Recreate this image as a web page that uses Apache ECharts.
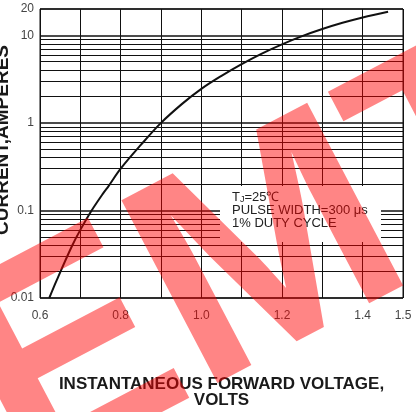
<!DOCTYPE html>
<html>
<head>
<meta charset="utf-8">
<script src="https://cdn.jsdelivr.net/npm/echarts@6/dist/echarts.min.js"></script>
<style>
html,body{margin:0;padding:0;background:#fff;}
#chart{width:416px;height:412px;}
</style>
</head>
<body>
<div id="chart"></div>
<script>
// Forward voltage (V) and instantaneous forward current (A)
const voltage = [0.623, 0.641, 0.679, 0.70, 0.728, 0.757, 0.77, 0.80, 0.85, 0.90, 0.953, 1.0, 1.05, 1.1, 1.15, 1.2, 1.25, 1.3, 1.35, 1.4, 1.463];
const current = [0.01, 0.0158, 0.039, 0.06, 0.1, 0.158, 0.19, 0.30, 0.56, 1.0, 1.66, 2.45, 3.45, 4.7, 6.2, 7.9, 9.8, 11.8, 13.9, 16.0, 18.6];
const xTickLabels = ['0.6', '0.8', '1.0', '1.2', '1.4', '1.5'];
const minorGrid = [0.02, 0.03, 0.04, 0.05, 0.06, 0.07, 0.08, 0.09, 0.2, 0.3, 0.4, 0.5, 0.6, 0.7, 0.8, 0.9, 2, 3, 4, 5, 6, 7, 8, 9];
const noteLines = ['{t|T}{s|J}{t|=25℃}', 'PULSE WIDTH=300 μs', '1% DUTY CYCLE'];

const chart = echarts.init(document.getElementById('chart'), null, {renderer: 'canvas'});
const font = '"Liberation Sans", Arial, sans-serif';
const lineColor = '#111';

chart.setOption({
  animation: false,
  backgroundColor: '#fff',
  grid: {left: 40, right: 13, top: 9, bottom: 114, show: true, borderColor: lineColor, borderWidth: 1,
    backgroundColor: 'transparent', containLabel: false, outerBoundsMode: 'none'},
  xAxis: {
    type: 'value', min: 0.6, max: 1.5, interval: 0.1,
    name: 'INSTANTANEOUS FORWARD VOLTAGE,\nVOLTS', nameLocation: 'middle', nameGap: 78, nameMoveOverlap: false,
    nameTextStyle: {fontFamily: font, fontWeight: 'bold', fontSize: 17, color: '#1a1a1a', lineHeight: 16},
    axisLine: {show: false}, axisTick: {show: false},
    axisLabel: {
      fontFamily: font, fontSize: 12, color: '#444', margin: 12, showMaxLabel: true, showMinLabel: true,
      formatter: v => { const s = v.toFixed(1); return xTickLabels.includes(s) ? s : ''; }
    },
    splitLine: {show: true, lineStyle: {color: lineColor, width: 1}}
  },
  yAxis: {
    type: 'log', logBase: 10, min: 0.01, max: 20,
    axisLine: {show: false}, axisTick: {show: false},
    axisLabel: {fontFamily: font, fontSize: 12, color: '#444', margin: 6, showMaxLabel: true},
    splitLine: {show: true, lineStyle: {color: lineColor, width: 1.6}}
  },
  series: [{
    type: 'line',
    data: voltage.map((v, i) => [v, current[i]]),
    smooth: 0.35, showSymbol: false, symbol: 'none',
    lineStyle: {color: '#111', width: 2},
    markLine: {
      silent: true, symbol: 'none', label: {show: false},
      lineStyle: {color: lineColor, width: 1, type: 'solid'},
      data: minorGrid.map(v => ({yAxis: v}))
    },
    z: 3
  }],
  graphic: [
    {type: 'rect', x: 220, y: 186, shape: {width: 161, height: 56}, style: {fill: '#fff'}, z: 50},
    {type: 'text', x: 232, y: 191, z: 51,
      style: {text: noteLines.join('\n'), font: '13px ' + font, fill: '#222', lineHeight: 13,
        rich: {t: {fontSize: 13, fontFamily: font, fill: '#222'}, s: {fontSize: 9, fontFamily: font, fill: '#222', padding: [4, 0, 0, 0]}}}},
    {type: 'text', x: 3, y: 140, rotation: Math.PI / 2, z: 60,
      style: {text: 'CURRENT,AMPERES', font: 'bold 19px ' + font, fill: '#1a1a1a', textAlign: 'center', textVerticalAlign: 'middle'}},
    {type: 'text', x: -16, y: 412, rotation: 27.7 * Math.PI / 180, z: 100, silent: true,
      style: {text: 'EMT', font: 'bold 300px ' + font, fill: 'rgba(255,0,0,0.48)', textAlign: 'left', textVerticalAlign: 'middle'}}
  ]
});
</script>
</body>
</html>
